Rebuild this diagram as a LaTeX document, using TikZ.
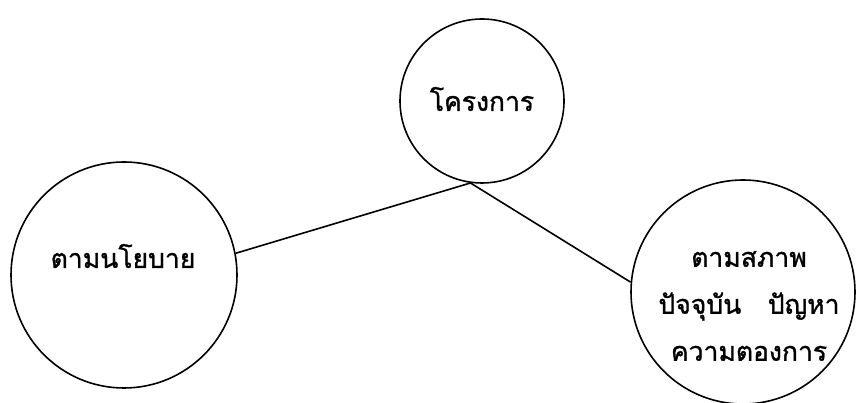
\documentclass[tikz,border=0pt]{standalone}
\usepackage{fontspec}
\newfontfamily\thaifont[Script=Thai, FakeBold=1.2]{Loma}
\usetikzlibrary{positioning}

\begin{document}
\begin{tikzpicture}[x=1pt, y=1pt,
  bubble/.style={circle, draw, line width=1.6pt, inner sep=0pt},
  words/.style={font=\thaifont\fontsize{26.5}{47}\selectfont, align=center, inner sep=0pt}]
  \useasboundingbox (0,0) rectangle (862,403);
  \node [bubble, minimum size=164pt] at (482, 302) (proj) {};
  \node [bubble, minimum size=226pt] at (124, 128) (policy) {};
  \node [bubble, minimum size=224pt] at (743, 111) (state) {};
  \node [words] at (482, 304) (projtext) {โครงการ};
  \node [words] at (123, 147) (policytext) {ตามนโยบาย};
  \node [words] at (749, 97) (statetext) {ตามสภาพ\\ปัจจุบัน\quad ปัญหา\\ความตองการ};
  \draw [line width=1.6pt] (policy.11) -- (proj.262) -- (state.175);
\end{tikzpicture}
\end{document}
